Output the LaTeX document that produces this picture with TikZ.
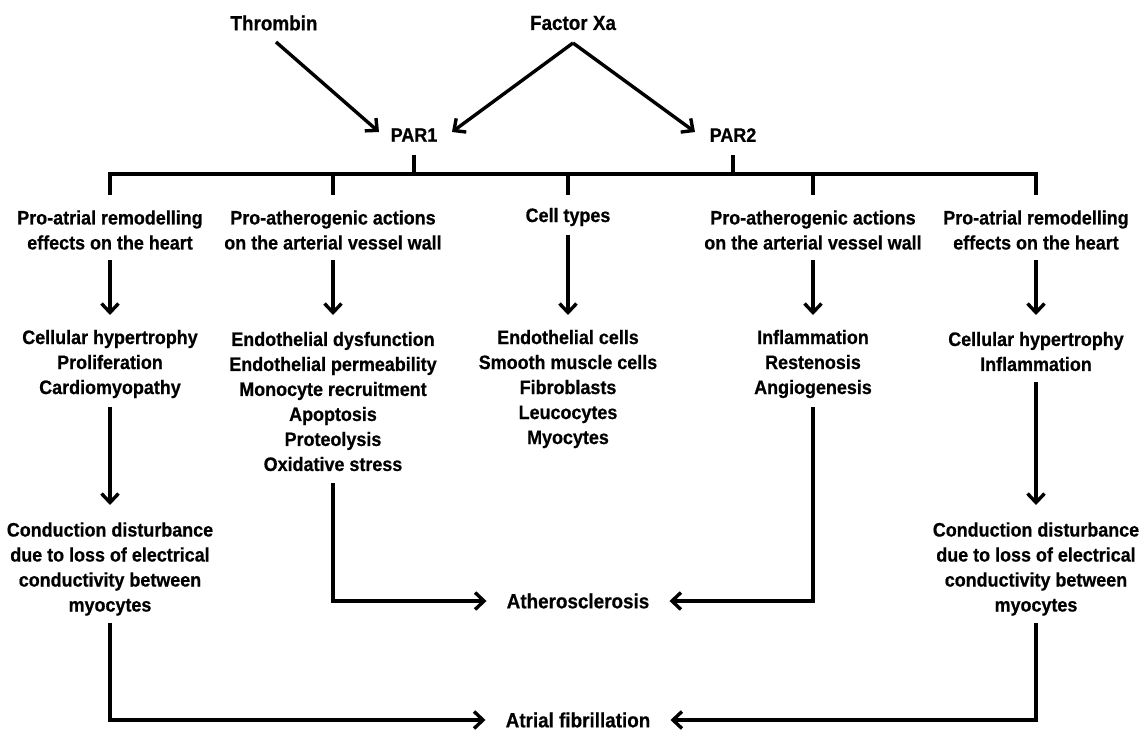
\documentclass[tikz,border=0pt]{standalone}
\usepackage{fontspec}
\setmainfont{Liberation Sans}[FakeStretch=0.92,BoldFeatures={FakeBold=0.6}]
\usetikzlibrary{arrows.meta}
\tikzset{
  ln/.style={line width=3.4pt, black},
  bus/.style={line width=3.8pt, black},
  arr/.style={ln, -{Straight Barb[length=9pt,width=17pt,line width=3.4pt]}},
  txt/.style={align=center, inner sep=0pt, font=\bfseries\fontsize{19.5}{25}\selectfont},
  big/.style={align=center, inner sep=0pt, font=\bfseries\fontsize{20.5}{25}\selectfont}
}
\begin{document}
\begin{tikzpicture}[x=1pt,y=-1pt]
\useasboundingbox (0,0) rectangle (1146,730);
% y levels
\coordinate (ybus) at (0,174);
\coordinate (ydrop) at (0,195);
\coordinate (ya) at (0,260);
\coordinate (yb) at (0,315);
\coordinate (yc) at (0,235);
\coordinate (y407) at (0,407);
\coordinate (y382) at (0,382);
\coordinate (y483) at (0,483);
\coordinate (y505) at (0,505);
\coordinate (y623) at (0,623);

% top
\node[big] (thr) at (274,23) {Thrombin};
\node[big] (fxa) at (573,23) {Factor Xa};
\node[txt] (par1) at (414,135) {PAR1};
\node[txt] (par2) at (733,135) {PAR2};

% headers
\node[txt] (h1) at (110,230) {Pro-atrial remodelling\\effects on the heart};
\node[txt] (h2) at (333,230) {Pro-atherogenic actions\\on the arterial vessel wall};
\node[txt] (h3) at (568,217) {Cell types};
\node[txt] (h4) at (813,230) {Pro-atherogenic actions\\on the arterial vessel wall};
\node[txt] (h5) at (1036,230) {Pro-atrial remodelling\\effects on the heart};

% lists
\node[txt] (l1) at (110,364) {Cellular hypertrophy\\Proliferation\\Cardiomyopathy};
\node[txt] (l2) at (333,401.5) {Endothelial dysfunction\\Endothelial permeability\\Monocyte recruitment\\Apoptosis\\Proteolysis\\Oxidative stress};
\node[txt] (l3) at (568,389) {Endothelial cells\\Smooth muscle cells\\Fibroblasts\\Leucocytes\\Myocytes};
\node[txt] (l4) at (813,364) {Inflammation\\Restenosis\\Angiogenesis};
\node[txt] (l5) at (1036,351.5) {Cellular hypertrophy\\Inflammation};

% conduction
\node[txt] (c1) at (110,569) {Conduction disturbance\\due to loss of electrical\\conductivity between\\myocytes};
\node[txt] (c5) at (1036,569) {Conduction disturbance\\due to loss of electrical\\conductivity between\\myocytes};

% outcomes
\node[big] (ath) at (578,601) {Atherosclerosis};
\node[big] (af) at (578,720) {Atrial fibrillation};

% top arrows
\draw[arr] ([xshift=2pt,yshift=-19pt]thr.center) -- ([xshift=-35pt,yshift=3pt]par1.center);
\draw[arr] ([yshift=-20pt]fxa.center) -- ([xshift=38pt,yshift=3pt]par1.center);
\draw[arr] ([yshift=-20pt]fxa.center) -- ([xshift=-38pt,yshift=3pt]par2.center);

% PAR ticks
\draw[ln] ([yshift=-20pt]par1.center) -- (par1 |- ybus);
\draw[ln] ([yshift=-20pt]par2.center) -- (par2 |- ybus);

% bus
\draw[bus] (h1 |- ydrop) -- (h1 |- ybus) -- (h5 |- ybus) -- (h5 |- ydrop);
\draw[ln] (h2 |- ybus) -- (h2 |- ydrop);
\draw[ln] (h3 |- ybus) -- (h3 |- ydrop);
\draw[ln] (h4 |- ybus) -- (h4 |- ydrop);

% header -> list
\draw[arr] (h1 |- ya) -- (h1 |- yb);
\draw[arr] (h2 |- ya) -- (h2 |- yb);
\draw[arr] (h3 |- yc) -- (h3 |- yb);
\draw[arr] (h4 |- ya) -- (h4 |- yb);
\draw[arr] (h5 |- ya) -- (h5 |- yb);

% list -> conduction
\draw[arr] (l1 |- y407) -- (l1 |- y505);
\draw[arr] (l5 |- y382) -- (l5 |- y505);

% atherosclerosis
\draw[arr] (l2 |- y483) -- (l2 |- ath) -- ([xshift=-20pt]ath.west);
\draw[arr] (l4 |- y407) -- (l4 |- ath) -- ([xshift=20pt]ath.east);

% atrial fibrillation
\draw[arr] (c1 |- y623) -- (c1 |- af) -- ([xshift=-20pt]af.west);
\draw[arr] (c5 |- y623) -- (c5 |- af) -- ([xshift=20pt]af.east);
\end{tikzpicture}
\end{document}
